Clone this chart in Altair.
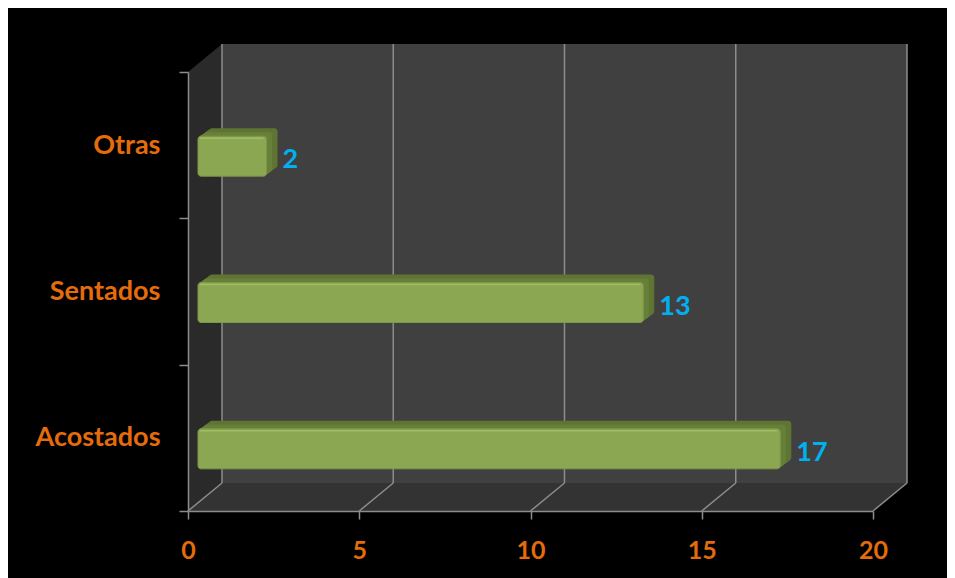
import altair as alt
import pandas as pd

# ---- data ----
categories = ["Otras", "Sentados", "Acostados"]
values = [2, 13, 17]
x_ticks = [0, 5, 10, 15, 20]

# ---- style / layout ----
W, H = 685, 439          # front plane (plot area)
DX, DY = 34, -28         # depth of the 3D box
BAR_DX, BAR_DY = 10, 11  # bar front-face offset (px)
BAR_DEPTH_X, BAR_DEPTH_Y = 11, 8
GRAY = "#8c8c8c"
ORANGE = "#E46C0A"
BLUE = "#00B0F0"
FONT = "Lato"
K = 500.0  # custom symbol scale (size = (2K)^2)
PX = 20.0 / W  # data units per pixel

df = pd.DataFrame({"cat": categories, "val": values})
grid_df = pd.DataFrame({"v": x_ticks})
one = pd.DataFrame({"k": [0]})

xscale = alt.Scale(domain=[0, 20], nice=False, zero=True)
yscale = alt.Scale(domain=categories, paddingInner=0, paddingOuter=0)

x_axis = alt.Axis(values=x_ticks, title=None, grid=False, domainColor=GRAY, domainWidth=1.5,
                  tickColor=GRAY, tickWidth=1.5, tickSize=8, labelColor=ORANGE, labelFont=FONT,
                  labelFontSize=25, labelFontWeight="bold", labelPadding=19, labelFlush=False,
                  zindex=1)
y_axis = alt.Axis(title=None, grid=False, tickBand="extent", domainColor=GRAY, domainWidth=1.5,
                  tickColor=GRAY, tickWidth=1.5, tickSize=9, labelColor=ORANGE, labelFont=FONT,
                  labelFontSize=27, labelFontWeight="bold", labelPadding=19, zindex=1)


def p(x, y):
    return f"{x / K:.5f},{y / K:.5f}"


left_wall_path = "M" + p(0, 0) + "L" + p(DX, DY) + "L" + p(DX, H + DY) + "L" + p(0, H) + "Z"
floor_path = "M" + p(0, H) + "L" + p(W, H) + "L" + p(W + DX, H + DY) + "L" + p(DX, H + DY) + "Z"

back = alt.Chart(one).mark_rect(color="#404040", xOffset=DX, x2Offset=DX, yOffset=DY, y2Offset=DY).encode(
    x=alt.XDatum(0), x2=alt.X2Datum(20), y=alt.value(0), y2=alt.value(H))

floor = alt.Chart(one).mark_point(shape=floor_path, size=(2 * K) ** 2, filled=True, opacity=1,
                                  color="#333333", strokeWidth=0).encode(
    x=alt.XDatum(0), y=alt.value(0))

left_wall = alt.Chart(one).mark_point(shape=left_wall_path, size=(2 * K) ** 2, filled=True, opacity=1,
                                      color="#2a2a2a", strokeWidth=0).encode(
    x=alt.XDatum(0), y=alt.value(0))

back_grid = alt.Chart(grid_df).mark_rule(color=GRAY, strokeWidth=1.5, xOffset=DX, yOffset=DY, y2Offset=DY).encode(
    x="v:Q", y=alt.value(0), y2=alt.value(H))

floor_grid = alt.Chart(grid_df).mark_rule(color=GRAY, strokeWidth=1.5, x2Offset=DX).encode(
    x="v:Q", x2="v", y=alt.value(H), y2=alt.value(H + DY))

layers = [back, floor, left_wall, back_grid, floor_grid]

steps = 10
for i in range(steps, 0, -1):
    off = (BAR_DX + BAR_DEPTH_X * i / steps) * PX
    oy = BAR_DY - BAR_DEPTH_Y * i / steps
    col = "#5f7533" if i > steps // 2 else "#67803a"
    layers.append(
        alt.Chart(df).transform_calculate(
            x0=f"{off}", x1=f"datum.val + {off}"
        ).mark_bar(size=40, color=col, cornerRadius=3, yOffset=oy).encode(
            x=alt.X("x0:Q"), x2=alt.X2("x1"), y=alt.Y("cat:N"))
    )

off0 = BAR_DX * PX
front = alt.Chart(df).transform_calculate(
    x0=f"{off0}", x1=f"datum.val + {off0}"
).mark_bar(size=40, color="#8BA751", cornerRadius=3, yOffset=BAR_DY,
           stroke="#7d9846", strokeWidth=1).encode(
    x=alt.X("x0:Q", scale=xscale, axis=x_axis),
    x2=alt.X2("x1"),
    y=alt.Y("cat:N", scale=yscale, axis=y_axis))
layers.append(front)

highlight = alt.Chart(df).transform_calculate(
    x0=f"{off0}", x1=f"datum.val + {off0}"
).mark_rule(color="#a2bd68", strokeWidth=1.5, yOffset=BAR_DY - 18, y2Offset=BAR_DY - 18,
            xOffset=2, x2Offset=-3).encode(
    x=alt.X("x0:Q"), x2=alt.X2("x1"), y=alt.Y("cat:N"))
layers.append(highlight)

labels = alt.Chart(df).mark_text(align="left", baseline="middle", dx=BAR_DX + 16, dy=15,
                                 font=FONT, fontSize=27, fontWeight="bold", color=BLUE).encode(
    x=alt.X("val:Q"), y=alt.Y("cat:N"), text=alt.Text("val:Q"))
layers.append(labels)

chart = alt.layer(*layers).properties(
    width=W, height=H,
    autosize=alt.AutoSizeParams(type="none"),
    padding={"left": 180, "top": 64, "right": 74, "bottom": 67},
    background="black",
).configure_view(stroke=None).configure_axis(grid=False)

chart.save("out.html", embed_options={"renderer": "svg", "actions": False})
